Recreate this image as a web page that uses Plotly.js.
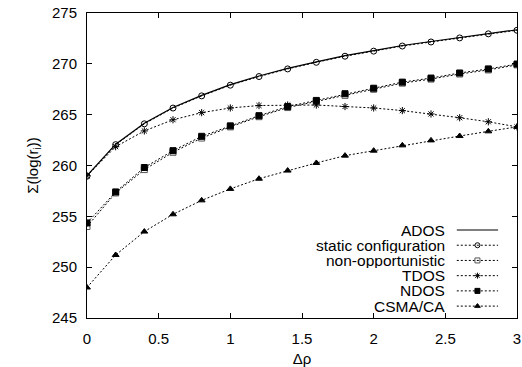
<!DOCTYPE html>
<html><head><meta charset="utf-8">
<script src="https://cdn.plot.ly/plotly-3.0.1.min.js"></script>
<style>html,body{margin:0;padding:0;background:#fff}#c{width:522px;height:367px}</style>
</head><body><div id="c"></div>
<script>
const dr = [0,0.2,0.4,0.6,0.8,1.0,1.2,1.4,1.6,1.8,2.0,2.2,2.4,2.6,2.8,3.0];
const ados   = [259.0,262.1,264.15,265.7,266.9,267.95,268.8,269.55,270.2,270.8,271.3,271.8,272.2,272.6,273.0,273.35];
const stat   = [258.95,262.05,264.1,265.65,266.85,267.9,268.75,269.5,270.15,270.75,271.25,271.75,272.15,272.55,272.95,273.3];
const nonopp = [254.0,257.3,259.6,261.3,262.7,263.8,264.8,265.7,266.3,266.9,267.5,268.1,268.5,269.0,269.4,269.9];
const tdos   = [259.0,261.85,263.4,264.5,265.2,265.66,265.9,265.95,265.95,265.8,265.66,265.4,265.07,264.7,264.3,263.8];
const ndos   = [254.35,257.4,259.8,261.46,262.87,263.9,264.9,265.8,266.4,267.06,267.6,268.2,268.6,269.1,269.5,269.98];
const csma   = [248.0,251.2,253.5,255.2,256.57,257.7,258.7,259.5,260.25,260.97,261.46,261.98,262.47,262.9,263.36,263.8];
const names  = ['ADOS','static configuration','non-opportunistic','TDOS','NDOS','CSMA/CA'];
const series = [ados, stat, nonopp, tdos, ndos, csma];
const FONT = 'Liberation Sans, Arial, Helvetica, sans-serif';
const styles = [
  {dash:'solid', symbol:null, mcolor:'#000'},
  {dash:'2px,2px', symbol:'circle-open', mcolor:'#000'},
  {dash:'2px,2px', symbol:'square-open', mcolor:'#555'},
  {dash:'2px,2px', symbol:'asterisk-open', mcolor:'#000'},
  {dash:'2px,2px', symbol:'square', mcolor:'#000'},
  {dash:'2px,2px', symbol:'triangle-up', mcolor:'#000'}
];
const traces = [];
series.forEach((ys,i)=>{
  const s = styles[i];
  const t = {x:dr, y:ys, type:'scatter', name:names[i], showlegend:false,
    mode: s.symbol ? 'lines+markers' : 'lines',
    line:{color:'#000', width: s.dash==='solid'?1.2:1, dash:s.dash}};
  if (s.symbol) t.marker = {symbol:s.symbol, size:6, color:s.mcolor, line:{color:s.mcolor, width:1}};
  traces.push(t);
});
// manual legend (text right-aligned, sample on right), on an overlay 0..1 axis pair
const annotations = [];
const legTop = 0.2885, legStep = 0.0499;
names.forEach((n,i)=>{
  const yy = legTop - i*legStep;
  const s = styles[i];
  traces.push({x:[0.860,0.956], y:[yy,yy], xaxis:'x2', yaxis:'y2', type:'scatter', mode:'lines',
    showlegend:false, hoverinfo:'skip', line:{color:'#000', width: s.dash==='solid'?1.2:1, dash:s.dash}});
  if (s.symbol) traces.push({x:[0.908], y:[yy], xaxis:'x2', yaxis:'y2', type:'scatter', mode:'markers',
    showlegend:false, hoverinfo:'skip', marker:{symbol:s.symbol, size:5, color:s.mcolor, line:{color:s.mcolor, width:1}}});
  annotations.push({xref:'x2', yref:'y2', x:0.834, y:yy, text:n, showarrow:false, xanchor:'right', yanchor:'middle',
    height:15, borderpad:0, font:{family:FONT, size:15.5, color:'#000'}});
});
const layout = {
  width:522, height:367,
  margin:{l:87, r:5, t:13, b:49},
  paper_bgcolor:'#fff', plot_bgcolor:'#fff',
  font:{family:FONT, size:15, color:'#000'},
  xaxis:{range:[0,3], tickvals:[0,0.5,1,1.5,2,2.5,3], ticktext:['0','0.5','1','1.5','2','2.5','3'],
    ticks:'inside', ticklen:5, tickcolor:'#000', showline:true, linecolor:'#000', linewidth:1, mirror:'ticks',
    showgrid:false, zeroline:false, tickfont:{size:15}, ticklabelstandoff:7,
    title:{text:'Δρ', font:{size:15}, standoff:20}},
  yaxis:{range:[245,275], tickvals:[245,250,255,260,265,270,275],
    ticks:'inside', ticklen:5, tickcolor:'#000', showline:true, linecolor:'#000', linewidth:1, mirror:'ticks',
    showgrid:false, zeroline:false, tickfont:{size:15}, ticklabelstandoff:6,
    title:{text:'Σ(log(r<sub>i</sub>))', font:{size:15}, standoff:9}},
  xaxis2:{overlaying:'x', range:[0,1], visible:false, fixedrange:true},
  yaxis2:{overlaying:'y', range:[0,1], visible:false, fixedrange:true},
  annotations:annotations,
  showlegend:false
};
Plotly.newPlot('c', traces, layout, {staticPlot:true});
</script></body></html>
